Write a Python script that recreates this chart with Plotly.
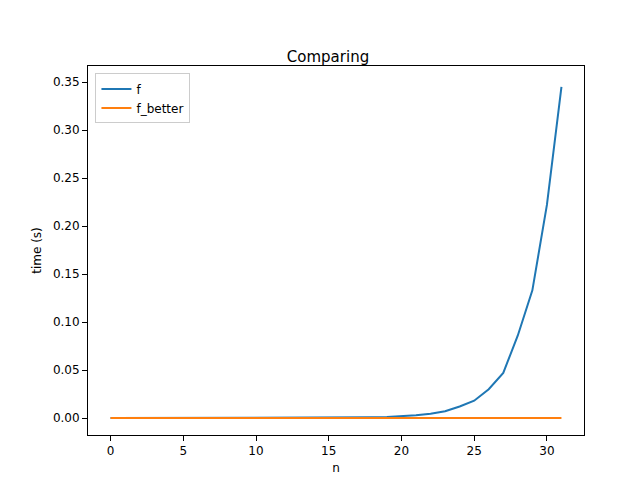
import plotly.graph_objects as go

n = list(range(32))
f_times = [0.000002, 0.000002, 0.000003, 0.000004, 0.000005, 0.000007, 0.00001, 0.000015,
           0.000022, 0.000035, 0.00005, 0.00008, 0.00012, 0.0002, 0.0003, 0.00045,
           0.0006, 0.0004, 0.0007, 0.001, 0.0017, 0.003, 0.0045, 0.007,
           0.012, 0.018, 0.030, 0.047, 0.086, 0.133, 0.222, 0.345]
f_better_times = [0.000002] * 32

fig = go.Figure()
fig.add_trace(go.Scatter(x=n, y=f_times, mode="lines", name="f",
                         line=dict(color="#1f77b4", width=2)))
fig.add_trace(go.Scatter(x=n, y=f_better_times, mode="lines", name="f_better",
                         line=dict(color="#ff7f0e", width=2)))

axis = dict(showgrid=False, zeroline=False, showline=True, mirror=True,
            linecolor="black", linewidth=1, ticks="outside", ticklen=5,
            tickcolor="black", automargin=False, title_font=dict(size=12))
fig.update_layout(
    width=640, height=480,
    margin=dict(l=80, r=64, t=58, b=53),
    paper_bgcolor="white", plot_bgcolor="white",
    font=dict(family="DejaVu Sans", size=12, color="black"),
    title=dict(text="Comparing", x=0.5, xanchor="center", y=0.91, font=dict(size=15)),
    xaxis=dict(axis, title=dict(text="n", standoff=6), range=[-1.55, 32.55],
               tickvals=[0, 5, 10, 15, 20, 25, 30]),
    yaxis=dict(axis, title=dict(text="time (s)", standoff=8), range=[-0.0177, 0.3667],
               tickvals=[0, 0.05, 0.1, 0.15, 0.2, 0.25, 0.3, 0.35], tickformat=".2f"),
    legend=dict(x=0.015, y=0.98, xanchor="left", yanchor="top",
                bordercolor="#cccccc", borderwidth=1, bgcolor="white"),
)
fig.write_html("out.html")
